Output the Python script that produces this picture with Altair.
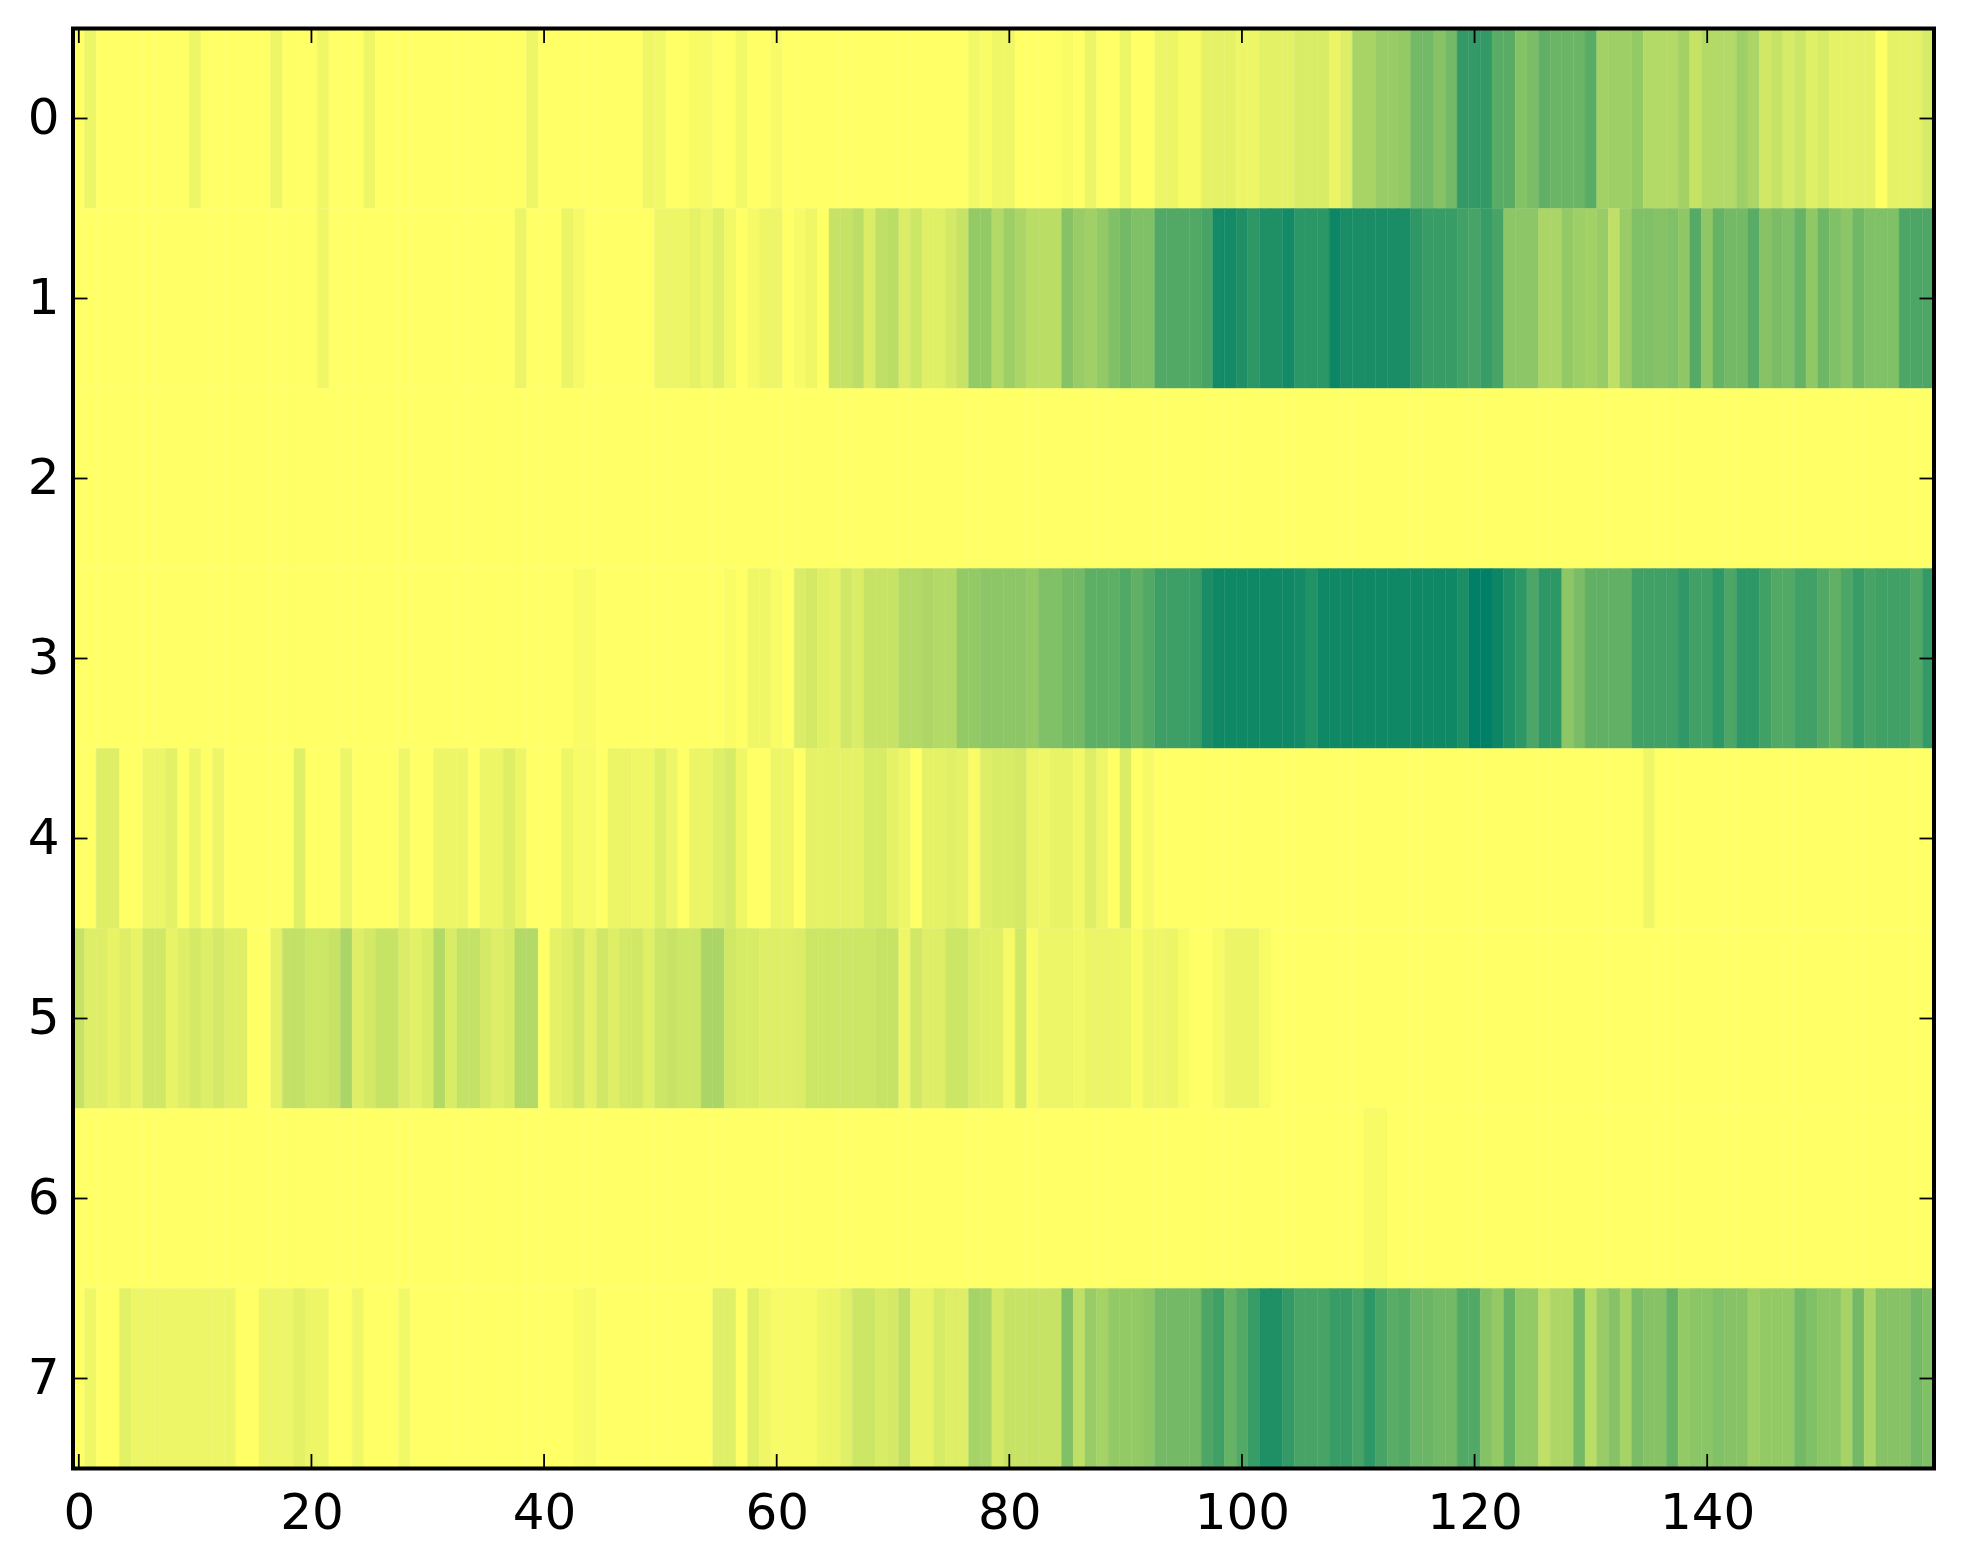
import altair as alt
import pandas as pd

row0 = [0,.07,0,0,0,0,0,0,0,0,
        .07,0,0,0,0,0,0,.07,0,0,
        0,.06,0,0,0,.07,0,0,0,0,
        0,0,0,0,0,0,0,0,0,.07,
        0,0,0,0,0,0,0,0,0,.06,
        .05,0,0,.03,.03,0,0,.05,0,0,
        .03,0,0,0,0,0,0,0,0,0,
        0,0,0,0,0,0,0,.05,.02,.06,
        .06,0,0,0,0,.02,0,.08,0,0,
        .07,0,0,.07,.08,.03,.03,.1,.1,.1,
        .07,.07,.11,.11,.11,.15,.15,.15,.08,.13,
        .34,.34,.4,.4,.42,.55,.55,.47,.55,.8,
        .8,.8,.65,.65,.48,.52,.62,.58,.58,.58,
        .65,.36,.38,.38,.42,.3,.3,.3,.36,.22,
        .3,.3,.3,.38,.33,.18,.22,.16,.2,.12,
        .16,.1,.1,.1,.1,0,.1,.1,.1,.16]
row1 = [0,0,0,0,0,0,0,0,0,0,
        0,0,0,0,0,0,0,0,0,0,
        0,.06,0,0,0,0,0,0,0,0,
        0,0,0,0,0,0,0,0,.08,0,
        0,0,.08,.04,0,0,0,0,0,0,
        .07,.07,.07,.1,.07,.12,.05,0,.04,.07,
        .07,0,.03,.06,0,.22,.22,.26,.14,.25,
        .27,.14,.2,.12,.12,.17,.22,.42,.42,.3,
        .38,.33,.27,.27,.27,.47,.4,.37,.42,.5,
        .55,.5,.5,.68,.68,.68,.68,.72,.92,.92,
        .88,.82,.88,.88,.92,.83,.83,.83,.95,.9,
        .9,.9,.9,.9,.9,.82,.78,.78,.78,.74,
        .72,.78,.72,.45,.45,.45,.33,.33,.42,.38,
        .36,.4,.25,.4,.5,.5,.47,.5,.44,.67,
        .44,.6,.55,.55,.65,.47,.52,.5,.6,.43,
        .57,.5,.45,.56,.5,.5,.5,.7,.7,.7]
row2 = [0] * 160
row3 = [0,0,0,0,0,0,0,0,0,0,
        0,0,0,0,0,0,0,0,0,0,
        0,0,0,0,0,0,0,0,0,0,
        0,0,0,0,0,0,0,0,0,0,
        0,0,0,.02,.02,0,0,0,0,0,
        0,0,0,0,0,0,.02,0,.06,.06,
        .02,0,.14,.17,.12,.1,.18,.14,.22,.22,
        .22,.3,.3,.32,.3,.3,.42,.42,.45,.45,
        .45,.45,.42,.5,.5,.55,.55,.63,.63,.63,
        .68,.62,.68,.76,.76,.76,.77,.9,.94,.94,
        .94,.94,.94,.94,.94,.92,.87,.94,.94,.94,
        .94,.94,.94,.94,.94,.94,.94,.94,.94,.89,
        1,1,.95,.88,.82,.7,.82,.82,.45,.52,
        .62,.62,.62,.62,.75,.75,.75,.75,.81,.75,
        .75,.82,.7,.82,.82,.75,.68,.68,.75,.75,
        .68,.62,.7,.78,.72,.75,.75,.75,.68,.8]
row4 = [0,0,.13,.13,0,0,.07,.07,.11,0,
        .07,0,.07,0,0,0,0,0,0,.12,
        0,0,0,.07,0,0,0,0,.06,0,
        0,.07,.07,.07,0,.07,.07,.13,.07,0,
        0,0,.07,.03,.03,0,.08,.08,.06,.06,
        .12,.07,0,.08,.08,.12,.16,.06,0,0,
        .07,.06,0,.1,.1,.1,.1,.1,.16,.16,
        .1,.07,0,.1,.1,.12,.1,.02,.13,.15,
        .15,.17,.08,.06,.09,.09,.05,.13,.06,0,
        .14,0,.04,0,0,0,0,0,0,0,
        0,0,0,0,0,0,0,0,0,0,
        0,0,0,0,0,0,0,0,0,0,
        0,0,0,0,0,0,0,0,0,0,
        0,0,0,0,0,.06,0,0,0,0,
        0,0,0,0,0,0,0,0,0,0,
        0,0,0,0,0,0,0,0,0,0]
row5 = [.22,.13,.13,.09,.13,.09,.18,.18,.09,.13,
        .17,.13,.17,.13,.13,0,0,.1,.24,.24,
        .2,.2,.22,.33,.13,.17,.22,.22,.14,.11,
        .15,.3,.15,.23,.23,.17,.13,.16,.3,.3,
        0,.1,.13,.18,.1,.18,.13,.17,.18,.12,
        .2,.22,.2,.2,.33,.33,.18,.16,.16,.13,
        .13,.13,.14,.2,.2,.2,.2,.2,.2,.22,
        .22,.06,.18,.13,.13,.2,.2,.14,.12,.12,
        .04,.18,.02,.07,.07,.07,.05,.08,.08,.08,
        .07,.02,.07,.06,.08,.03,0,0,.03,.08,
        .08,.08,.03,0,0,0,0,0,0,0,
        0,0,0,0,0,0,0,0,0,0,
        0,0,0,0,0,0,0,0,0,0,
        0,0,0,0,0,0,0,0,0,0,
        0,0,0,0,0,0,0,0,0,0,
        0,0,0,0,0,0,0,0,0,0]
row6 = [0] * 111 + [.03, .03] + [0] * 47
row7 = [0,.06,0,0,.11,.07,.07,.07,.07,.07,
        .07,.07,.07,.07,0,0,.07,.07,.07,.11,
        .07,.07,0,0,.06,0,0,0,.05,0,
        0,0,0,0,0,0,0,0,0,0,
        0,0,0,.02,.03,0,0,0,0,0,
        0,0,0,0,0,.12,.12,0,.12,.06,
        .03,.03,.03,.03,.07,.08,.12,.2,.2,.15,
        .17,.25,.09,.09,.16,.13,.13,.35,.33,.17,
        .22,.22,.22,.22,.22,.5,.25,.4,.35,.42,
        .42,.42,.45,.55,.55,.55,.55,.7,.75,.6,
        .68,.78,.88,.88,.8,.72,.72,.72,.78,.78,
        .72,.82,.72,.65,.68,.58,.58,.55,.55,.68,
        .68,.48,.42,.6,.42,.42,.25,.32,.32,.55,
        .27,.4,.47,.35,.52,.47,.47,.6,.42,.46,
        .46,.5,.47,.47,.38,.42,.42,.42,.55,.5,
        .45,.45,.35,.55,.33,.47,.47,.47,.55,.5]

rows = [row0, row1, row2, row3, row4, row5, row6, row7]
x_ticks = [0, 20, 40, 60, 80, 100, 120, 140]
y_ticks = [0, 1, 2, 3, 4, 5, 6, 7]
x_domain = [-0.5, 159.5]
y_domain = [-0.5, 7.5]

W, H = 1861, 1440
FONT = "DejaVu Sans"

cells = pd.DataFrame(
    [
        {"x0": c - 0.5, "x1": c + 0.5, "y0": r - 0.5, "y1": r + 0.5, "v": v}
        for r, row in enumerate(rows)
        for c, v in enumerate(row)
    ]
)

xs = alt.Scale(domain=x_domain, nice=False, zero=False)
ys = alt.Scale(domain=y_domain, nice=False, zero=False, reverse=True)
cs = alt.Scale(domain=[0, 1], range=["#ffff66", "#008066"], interpolate="rgb")

x_axis = alt.Axis(
    values=x_ticks, title=None, grid=False, ticks=False, domain=False,
    labelFont=FONT, labelFontSize=50, labelColor="black",
    labelPadding=20, format="d", labelFlush=False, labelOverlap=False,
)
y_axis = alt.Axis(
    values=y_ticks, title=None, grid=False, ticks=False, domain=False,
    labelFont=FONT, labelFontSize=50, labelColor="black",
    labelPadding=14, format="d", labelFlush=False, labelOverlap=False,
)

heat = (
    alt.Chart(cells)
    .mark_rect(strokeWidth=0.4)
    .encode(
        x=alt.X("x0:Q", scale=xs, axis=x_axis),
        x2="x1:Q",
        y=alt.Y("y0:Q", scale=ys, axis=y_axis),
        y2="y1:Q",
        fill=alt.Fill("v:Q", scale=cs, legend=None),
        stroke=alt.Stroke("v:Q", scale=cs, legend=None),
    )
)

xt = pd.DataFrame({"x": x_ticks})
yt = pd.DataFrame({"y": y_ticks})
TICK = 14.5
TW = 1.8

x_bottom = alt.Chart(xt).mark_rule(color="black", strokeWidth=TW).encode(
    x=alt.X("x:Q", scale=xs, axis=x_axis), y=alt.value(H), y2=alt.value(H - TICK))
x_top = alt.Chart(xt).mark_rule(color="black", strokeWidth=TW).encode(
    x=alt.X("x:Q", scale=xs, axis=x_axis), y=alt.value(0), y2=alt.value(TICK))
y_left = alt.Chart(yt).mark_rule(color="black", strokeWidth=TW).encode(
    y=alt.Y("y:Q", scale=ys, axis=y_axis), x=alt.value(0), x2=alt.value(TICK))
y_right = alt.Chart(yt).mark_rule(color="black", strokeWidth=TW).encode(
    y=alt.Y("y:Q", scale=ys, axis=y_axis), x=alt.value(W), x2=alt.value(W - TICK))

frame = (
    alt.Chart(pd.DataFrame({"x0": [x_domain[0]], "x1": [x_domain[1]], "y0": [y_domain[0]], "y1": [y_domain[1]]}))
    .mark_rect(filled=False, stroke="black", strokeWidth=4, fillOpacity=0)
    .encode(
        x=alt.X("x0:Q", scale=xs, axis=x_axis), x2="x1:Q",
        y=alt.Y("y0:Q", scale=ys, axis=y_axis), y2="y1:Q",
    )
)

chart = (
    alt.layer(heat, x_bottom, x_top, y_left, y_right, frame)
    .properties(
        width=W, height=H,
        padding={"left": 19, "top": 18.5, "right": 10, "bottom": 10},
        background="white",
    )
    .configure_view(stroke=None)
)

chart.save("out.html", embed_options={"renderer": "svg", "actions": False})
